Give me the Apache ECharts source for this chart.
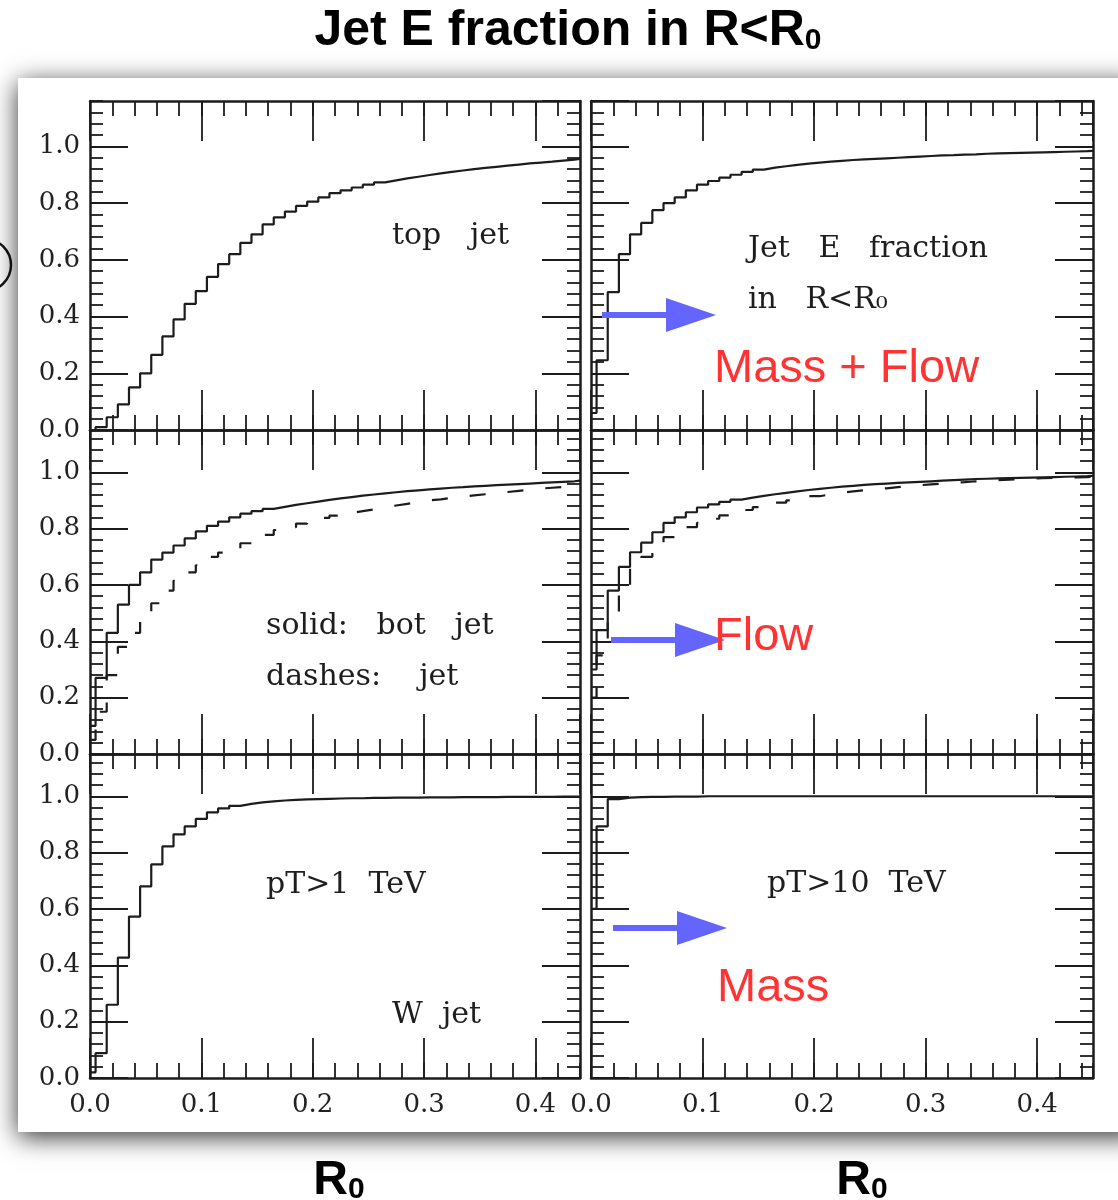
<!DOCTYPE html>
<html><head><meta charset="utf-8">
<script src="https://cdn.jsdelivr.net/npm/echarts@6/dist/echarts.min.js"></script>
<style>html,body{margin:0;padding:0;background:#fff}#c{width:1118px;height:1200px}</style>
</head><body><div id="c"></div>
<script>
// ---- data: R0 bin edges and cumulative jet-energy fractions ----
const R_EDGES = [0, 0.005, 0.015, 0.025, 0.035, 0.045, 0.055, 0.065, 0.075, 0.085, 0.095,
  0.105, 0.115, 0.125, 0.135, 0.145, 0.155, 0.165, 0.175, 0.185, 0.195,
  0.205, 0.215, 0.225, 0.235, 0.245, 0.255, 0.265, 0.275, 0.285, 0.295,
  0.305, 0.315, 0.325, 0.335, 0.345, 0.355, 0.365, 0.375, 0.385, 0.395,
  0.405, 0.415, 0.425, 0.435, 0.445];

const topJet = [0.0, 0.01, 0.045, 0.09, 0.15, 0.20, 0.265, 0.33, 0.39, 0.445,
  0.49, 0.54, 0.585, 0.62, 0.66, 0.69, 0.725, 0.75, 0.77, 0.79,
  0.805, 0.82, 0.835, 0.845, 0.855, 0.865, 0.873, 0.88, 0.887, 0.893,
  0.899, 0.905, 0.91, 0.915, 0.92, 0.924, 0.928, 0.932, 0.936, 0.94,
  0.943, 0.946, 0.95, 0.953, 0.956, 0.958];

const topJetHigh = [0.06, 0.246, 0.486, 0.62, 0.69, 0.73, 0.775, 0.80, 0.82, 0.845,
  0.865, 0.878, 0.89, 0.90, 0.91, 0.918, 0.925, 0.93, 0.935, 0.939,
  0.943, 0.946, 0.949, 0.952, 0.954, 0.956, 0.958, 0.96, 0.962, 0.964,
  0.966, 0.968, 0.969, 0.971, 0.972, 0.974, 0.975, 0.976, 0.977, 0.978,
  0.979, 0.98, 0.981, 0.982, 0.983, 0.984];

const botJet = [0.10, 0.27, 0.43, 0.53, 0.60, 0.645, 0.69, 0.715, 0.74, 0.765,
  0.79, 0.81, 0.825, 0.84, 0.853, 0.862, 0.87, 0.877, 0.884, 0.89,
  0.896, 0.902, 0.907, 0.912, 0.917, 0.921, 0.925, 0.929, 0.933, 0.936,
  0.939, 0.942, 0.945, 0.947, 0.95, 0.952, 0.954, 0.956, 0.958, 0.96,
  0.962, 0.964, 0.966, 0.968, 0.97, 0.972];

const lightJet = [0.05, 0.15, 0.28, 0.38, 0.43, 0.485, 0.535, 0.58, 0.615, 0.645,
  0.67, 0.70, 0.715, 0.73, 0.748, 0.762, 0.778, 0.795, 0.805, 0.818,
  0.83, 0.838, 0.846, 0.856, 0.862, 0.868, 0.875, 0.882, 0.888, 0.894,
  0.90, 0.904, 0.909, 0.914, 0.918, 0.922, 0.926, 0.93, 0.934, 0.938,
  0.942, 0.945, 0.948, 0.951, 0.954, 0.956];

const botJetHigh = [0.30, 0.44, 0.58, 0.664, 0.716, 0.75, 0.787, 0.82, 0.84, 0.858,
  0.875, 0.886, 0.895, 0.903, 0.91, 0.916, 0.922, 0.927, 0.932, 0.937,
  0.941, 0.945, 0.949, 0.952, 0.955, 0.958, 0.96, 0.962, 0.964, 0.966,
  0.968, 0.97, 0.972, 0.974, 0.976, 0.977, 0.978, 0.979, 0.98, 0.981,
  0.982, 0.983, 0.984, 0.985, 0.986, 0.987];

const lightJetHigh = [0.20, 0.35, 0.50, 0.60, 0.66, 0.70, 0.74, 0.77, 0.79, 0.805,
  0.82, 0.835, 0.847, 0.857, 0.866, 0.876, 0.884, 0.892, 0.90, 0.907,
  0.915, 0.922, 0.928, 0.932, 0.936, 0.94, 0.943, 0.947, 0.951, 0.954,
  0.957, 0.96, 0.963, 0.965, 0.968, 0.97, 0.972, 0.974, 0.976, 0.978,
  0.979, 0.98, 0.981, 0.982, 0.983, 0.984];

const wJet = [0.02, 0.088, 0.26, 0.427, 0.573, 0.68, 0.758, 0.822, 0.865, 0.893,
  0.92, 0.943, 0.957, 0.966, 0.973, 0.978, 0.982, 0.985, 0.987, 0.989,
  0.99, 0.991, 0.992, 0.993, 0.993, 0.994, 0.994, 0.995, 0.995, 0.995,
  0.996, 0.996, 0.996, 0.997, 0.997, 0.997, 0.997, 0.998, 0.998, 0.998,
  0.998, 0.998, 0.999, 0.999, 0.999, 0.999];

const wJetHigh = [0.60, 0.893, 0.99, 0.995, 0.997, 0.998, 0.998, 0.999, 0.999, 0.999,
  1.0, 1.0, 1.0, 1.0, 1.0, 1.0, 1.0, 1.0, 1.0, 1.0,
  1.0, 1.0, 1.0, 1.0, 1.0, 1.0, 1.0, 1.0, 1.0, 1.0,
  1.0, 1.0, 1.0, 1.0, 1.0, 1.0, 1.0, 1.0, 1.0, 1.0,
  1.0, 1.0, 1.0, 1.0, 1.0, 1.0];

const PANEL_TEXT = [
  ['top   jet'],
  ['Jet   E   fraction', 'in   R<R₀'],
  ['solid:   bot   jet', 'dashes:    jet'],
  [],
  ['pT>1  TeV', 'W  jet'],
  ['pT>10  TeV']
];
const ANNOTATIONS = ['Mass + Flow', 'Flow', 'Mass'];

// ---- layout / style ----
const INK = '#1c1c1c';
const SERIF = 'DejaVu Serif';
const PANELS = [
  {left: 90,  top: 101, width: 490, height: 329, xmax: 0.44, ymax: 1.16, xLab: false, yLab: true,  curves: [[topJet, false]]},
  {left: 591, top: 101, width: 502, height: 329, xmax: 0.45, ymax: 1.16, xLab: false, yLab: false, curves: [[topJetHigh, false]]},
  {left: 90,  top: 430, width: 490, height: 324, xmax: 0.44, ymax: 1.15, xLab: false, yLab: true,  curves: [[botJet, false], [lightJet, true]]},
  {left: 591, top: 430, width: 502, height: 324, xmax: 0.45, ymax: 1.15, xLab: false, yLab: false, curves: [[botJetHigh, false], [lightJetHigh, true]]},
  {left: 90,  top: 754, width: 490, height: 324, xmax: 0.44, ymax: 1.15, xLab: true,  yLab: true,  curves: [[wJet, false]]},
  {left: 591, top: 754, width: 502, height: 324, xmax: 0.45, ymax: 1.15, xLab: true,  yLab: false, curves: [[wJetHigh, false]]}
];

function stepPoints(vals, xmax) {
  const pts = [];
  for (let i = 0; i < R_EDGES.length; i++) {
    if (R_EDGES[i] < xmax) pts.push([R_EDGES[i], vals[i]]);
  }
  pts.push([xmax, pts[pts.length - 1][1]]);
  return pts;
}

const fmt = v => v.toFixed(1);
const tickStyle = {color: INK, width: 1.8};
const grids = [], xAxes = [], yAxes = [], series = [];

PANELS.forEach((p, g) => {
  grids.push({left: p.left, top: p.top, width: p.width, height: p.height, outerBoundsMode: 'none', containLabel: false});
  const xb = {gridIndex: g, type: 'value', min: 0, max: p.xmax, splitLine: {show: false}};
  const yb = {gridIndex: g, type: 'value', min: 0, max: p.ymax, splitLine: {show: false}};
  ['bottom', 'top'].forEach(pos => {
    xAxes.push(Object.assign({}, xb, {position: pos, interval: 0.1,
      axisLine: {show: true, onZero: false, lineStyle: {color: INK, width: 2.5}},
      axisTick: {show: true, inside: true, length: 40, lineStyle: tickStyle},
      axisLabel: {show: pos === 'bottom' && p.xLab, fontFamily: SERIF, fontSize: 26, color: '#222', margin: 14,
        showMaxLabel: false, showMinLabel: true, hideOverlap: false, formatter: fmt}}));
    xAxes.push(Object.assign({}, xb, {position: pos, interval: 0.02,
      axisLine: {show: false, onZero: false},
      axisTick: {show: true, inside: true, length: 15, lineStyle: tickStyle},
      axisLabel: {show: false}}));
  });
  ['left', 'right'].forEach(pos => {
    yAxes.push(Object.assign({}, yb, {position: pos, interval: 0.2,
      axisLine: {show: true, onZero: false, lineStyle: {color: INK, width: 2.5}},
      axisTick: {show: true, inside: true, length: 38, lineStyle: tickStyle},
      axisLabel: {show: pos === 'left' && p.yLab, fontFamily: SERIF, fontSize: 26, color: '#222', margin: 10,
        showMaxLabel: false, showMinLabel: true, hideOverlap: false, formatter: fmt}}));
    yAxes.push(Object.assign({}, yb, {position: pos, interval: 0.04,
      axisLine: {show: false, onZero: false},
      axisTick: {show: true, inside: true, length: 13, lineStyle: tickStyle},
      axisLabel: {show: false}}));
  });
  p.curves.forEach(([vals, dashed]) => {
    series.push({type: 'line', xAxisIndex: g * 4, yAxisIndex: g * 4, step: 'end', showSymbol: false,
      symbol: 'none', animation: false, silent: true, clip: true,
      lineStyle: {color: INK, width: 2.2, type: dashed ? [16, 22] : 'solid'},
      data: stepPoints(vals, p.xmax)});
  });
});

// panel labels (serif) positions
const serifPos = [
  [[392, 236]],
  [[748, 249], [748, 300]],
  [[266, 626], [266, 677]],
  [],
  [[266, 885], [392, 1015]],
  [[767, 884]]
];
const graphics = [
  {type: 'rect', z: -10, silent: true, shape: {x: 18, y: 78, width: 1120, height: 1054},
   style: {fill: '#fff', shadowBlur: 24, shadowColor: 'rgba(0,0,0,0.8)', shadowOffsetX: 0, shadowOffsetY: 5}},
  {type: 'circle', z: 50, silent: true, shape: {cx: -15, cy: 265, r: 26},
   style: {fill: 'none', stroke: '#111', lineWidth: 2.5}}
];
PANEL_TEXT.forEach((arr, i) => arr.forEach((t, j) => {
  graphics.push({type: 'text', z: 50, silent: true, style: {text: t, x: serifPos[i][j][0], y: serifPos[i][j][1],
    font: '30px "' + SERIF + '"', fill: '#1e1e1e', align: 'left', verticalAlign: 'middle',
    textAlign: 'left', textVerticalAlign: 'middle'}});
}));
// blue arrows
const ARROWS = [[602, 315], [611, 640], [613, 928]];
ARROWS.forEach(([x, y]) => {
  graphics.push({type: 'rect', z: 60, silent: true, shape: {x: x, y: y - 3, width: 66, height: 6}, style: {fill: '#6464ff'}});
  graphics.push({type: 'polygon', z: 60, silent: true, shape: {points: [[x + 64, y - 17], [x + 114, y], [x + 64, y + 17]]}, style: {fill: '#6464ff'}});
});
const annPos = [[714, 369], [714, 637], [717, 988]];
ANNOTATIONS.forEach((t, i) => {
  graphics.push({type: 'text', z: 70, silent: true, style: {text: t, x: annPos[i][0], y: annPos[i][1],
    font: '47px "Liberation Sans"', fill: '#ff3333', align: 'left', verticalAlign: 'middle',
    textAlign: 'left', textVerticalAlign: 'middle'}});
});

const richTitle = (size, sub) => ({
  a: {fontSize: size, fontWeight: 'bold', fontFamily: 'Liberation Sans', color: '#000'},
  s: {fontSize: sub, fontWeight: 'bold', fontFamily: 'Liberation Sans', color: '#000', verticalAlign: 'bottom'}
});

const option = {
  backgroundColor: '#fff',
  animation: false,
  title: [
    {text: '{a|Jet E fraction in R<R}{s|0}', left: 563, top: 1, textAlign: 'center',
     textStyle: {rich: richTitle(50, 30)}},
    {text: '{a|R}{s|0}', left: 334, top: 1152, textAlign: 'center', textStyle: {rich: richTitle(48, 30)}},
    {text: '{a|R}{s|0}', left: 857, top: 1152, textAlign: 'center', textStyle: {rich: richTitle(48, 30)}}
  ],
  grid: grids,
  xAxis: xAxes,
  yAxis: yAxes,
  series: series,
  graphic: {elements: graphics}
};

const chart = echarts.init(document.getElementById('c'), null, {renderer: 'canvas'});
chart.setOption(option);
</script>
</body></html>
